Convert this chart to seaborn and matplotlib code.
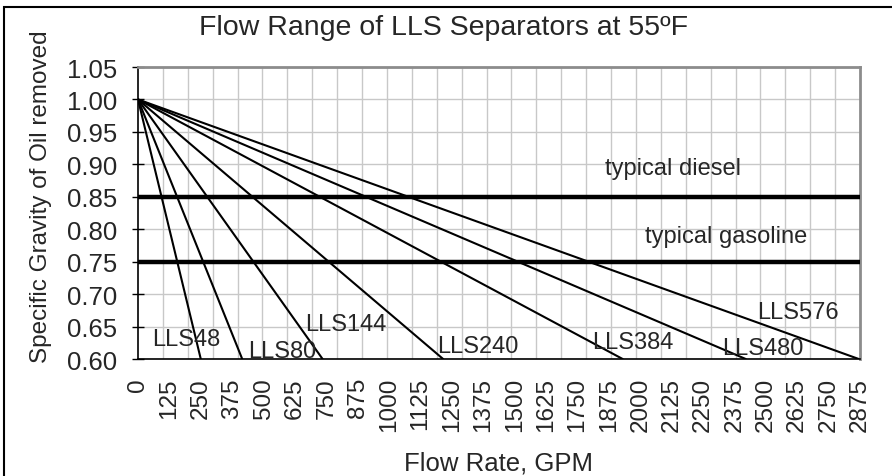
import numpy as np
import matplotlib
matplotlib.use("Agg")
import matplotlib.pyplot as plt
import seaborn as sns
import pandas as pd
from matplotlib.patches import Rectangle

# separator models and flow (GPM) where each line reaches SG 0.60
models = ["LLS48", "LLS80", "LLS144", "LLS240", "LLS384", "LLS480", "LLS576"]
end_flow = [250, 415, 735, 1215, 1930, 2420, 2870]
sg_start = 1.00
sg_end = 0.60

# label positions (left edge, vertical centre)
label_x = [55, 440, 665, 1190, 1810, 2325, 2465]
label_y = [0.631, 0.612, 0.654, 0.620, 0.626, 0.617, 0.673]

ref_names = ["typical diesel", "typical gasoline"]
ref_sg = [0.85, 0.75]
ref_label_x = [1860, 2020]
ref_label_y = [0.894, 0.789]

x_labels = list(range(0, 2876, 125))

rows = []
for m, f in zip(models, end_flow):
    rows.append({"model": m, "flow": 0, "sg": sg_start})
    rows.append({"model": m, "flow": f, "sg": sg_end})
df = pd.DataFrame(rows)

sns.set_style("white")
plt.rcParams["font.family"] = ["Liberation Sans", "DejaVu Sans"]

fig = plt.figure(figsize=(8.92, 4.77), dpi=100)
ax = fig.add_axes([138 / 892, 1 - 360 / 477, (860 - 138) / 892, (360 - 68) / 477])

sns.lineplot(data=df, x="flow", y="sg", units="model", estimator=None,
             color="black", linewidth=1.5, ax=ax, legend=False)
for s in ref_sg:
    ax.axhline(s, color="black", linewidth=3.2, zorder=3)

for m, x, y in zip(models, label_x, label_y):
    ax.text(x, y, m, fontsize=17, ha="left", va="center")
for n, x, y in zip(ref_names, ref_label_x, ref_label_y):
    ax.text(x, y, n, fontsize=17, ha="left", va="center")

ax.set_xlim(0, 2875)
ax.set_ylim(0.60, 1.05)
ax.set_xticks(x_labels)
ax.set_xticklabels([str(v) for v in x_labels], rotation=90, fontsize=17.5)
ax.set_xticks(np.linspace(0, 2875, 30), minor=True)
ax.tick_params(axis="x", which="major", length=0, pad=13)
ax.tick_params(axis="x", which="minor", length=7, width=1, color="black", direction="out")
ax.set_yticks(np.arange(0.60, 1.051, 0.05))
ax.set_yticklabels([f"{v:.2f}" for v in np.arange(0.60, 1.051, 0.05)], fontsize=18.5)
ax.tick_params(axis="y", length=8, width=1, color="black", direction="inout", left=True, pad=11)
ax.grid(True, which="minor", axis="x", color="#c8c8c8", linewidth=1)
ax.grid(True, which="major", axis="y", color="#c8c8c8", linewidth=1)
ax.grid(False, which="major", axis="x")

ax.spines["left"].set_color("black")
ax.spines["bottom"].set_color("black")
ax.spines["left"].set_linewidth(1.2)
ax.spines["bottom"].set_linewidth(1.2)
ax.spines["top"].set_color("#8c8c8c")
ax.spines["right"].set_color("#8c8c8c")
ax.spines["top"].set_linewidth(2)
ax.spines["right"].set_linewidth(2)

ax.set_xlabel("Flow Rate, GPM", fontsize=18.5, labelpad=14)
ax.set_ylabel("Specific Gravity of Oil removed", fontsize=17.5, labelpad=11, y=0.56)
fig.text(0.497, 1 - 28 / 477, "Flow Range of LLS Separators at 55ºF",
         fontsize=20.5, ha="center", va="center")

fig.patches.append(Rectangle((4 / 892, -0.05), 1.1, 1 - 8 / 477 + 0.05,
                             transform=fig.transFigure, fill=False,
                             edgecolor="black", linewidth=1.5))

fig.savefig("out.png", dpi=100)
